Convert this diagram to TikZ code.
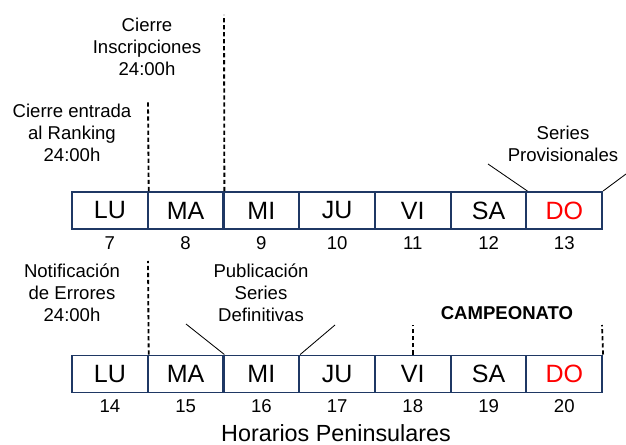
\documentclass[tikz,border=0pt]{standalone}
\usepackage{fontspec}
\setmainfont{Liberation Sans}
\usetikzlibrary{positioning}

\begin{document}
\begin{tikzpicture}[
    x=0.025cm, y=-0.025cm,
    day/.style={draw=daynavy, line width=1.4pt, minimum width=1.89cm, minimum height=0.925cm, inner sep=0pt, font=\fontsize{17.8}{20}\selectfont},
    note/.style={align=center, font=\fontsize{13.2}{15.6}\selectfont},
    cutline/.style={line width=1.3pt, dash pattern=on 3pt off 2pt},
    pointer/.style={line width=0.6pt},
    every label/.style={font=\fontsize{13.2}{15}\selectfont},
    label distance=1pt
]

% Colors
\definecolor{daynavy}{RGB}{31,56,100}
\definecolor{sundayred}{RGB}{255,0,0}

\useasboundingbox (0,0) rectangle (626,445);

% First week
\node[day, label=below:7] (lu1) at (109.9,210.5) {LU};
\node[day, label=below:8] (ma1) at (185.6,210.5) {MA};
\node[day, label=below:9] (mi1) at (261.4,210.5) {MI};
\node[day, label=below:10] (ju1) at (337.1,210.5) {JU};
\node[day, label=below:11] (vi1) at (412.8,210.5) {VI};
\node[day, label=below:12] (sa1) at (488.6,210.5) {SA};
\node[day, label=below:13, text=sundayred] (do1) at (564.3,210.5) {DO};

% Second week
\node[day, label=below:14] (lu2) at (109.9,374) {LU};
\node[day, label=below:15] (ma2) at (185.6,374) {MA};
\node[day, label=below:16] (mi2) at (261.4,374) {MI};
\node[day, label=below:17] (ju2) at (337.1,374) {JU};
\node[day, label=below:18] (vi2) at (412.8,374) {VI};
\node[day, label=below:19] (sa2) at (488.6,374) {SA};
\node[day, label=below:20, text=sundayred] (do2) at (564.3,374) {DO};

% Deadlines
\coordinate (rankTop) at (148,100);
\coordinate (inscTop) at (224,15);
\coordinate (errTop) at (148,261);
\coordinate (campStart) at (412.8,325);
\coordinate (campEnd) at (602,325);

\draw[cutline] (lu1.north east) -- (rankTop);
\draw[cutline] (ma1.north east) -- (inscTop);
\draw[cutline] (lu2.north east) -- (errTop);
\draw[cutline] (vi2.north) -- (campStart);
\draw[cutline] (do2.north east) -- (campEnd);

% Publications
\coordinate (provLeft) at (488,164);
\coordinate (provRight) at (626,174);
\coordinate (defLeft) at (186,324);
\coordinate (defRight) at (335,325);

\draw[pointer] (sa1.north east) -- (provLeft);
\draw[pointer] (do1.north east) -- (provRight);
\draw[pointer] (ma2.north east) -- (defLeft);
\draw[pointer] (mi2.north east) -- (defRight);

% Annotations
\node[note] (inscr) at (147,47) {Cierre\\Inscripciones\\24:00h};
\node[note] (ranking) at (72,133) {Cierre entrada\\al Ranking\\24:00h};
\node[note] (provis) at (563,144) {Series\\Provisionales};
\node[note] (errores) at (72,293) {Notificación\\de Errores\\24:00h};
\node[note] (definit) at (261,293) {Publicación\\Series\\Definitivas};
\node[font=\fontsize{13.2}{15}\selectfont\bfseries] (campeonato) at (507,313.5) {CAMPEONATO};
\node[font=\fontsize{16.6}{19}\selectfont] (horarios) at (336,433) {Horarios Peninsulares};

\end{tikzpicture}
\end{document}
